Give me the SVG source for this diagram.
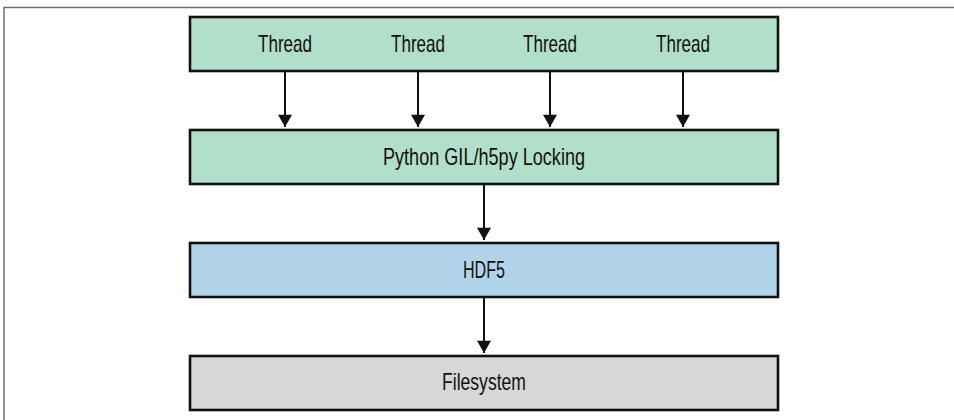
<svg xmlns="http://www.w3.org/2000/svg" width="954" height="420" viewBox="0 0 954 420">
  <style>
    .box { stroke: #111111; stroke-width: 2.6; }
    .green { fill: #b2dfc9; }
    .blue { fill: #b1d4ea; }
    .gray { fill: #d7d7d7; }
    .label { font-family: "Liberation Sans", Arial, sans-serif; font-size: 24px; fill: #111111; text-anchor: middle; }
    .conn { stroke: #111111; stroke-width: 2; fill: none; }
    .frame { stroke: #707070; stroke-width: 1.5; fill: none; }
  </style>
  <defs>
    <marker id="arrow" markerUnits="userSpaceOnUse" markerWidth="16" markerHeight="14" refX="14" refY="8" orient="auto" viewBox="0 0 14 16">
      <path d="M0,0 L14,8 L0,16 Z" fill="#111111"/>
    </marker>
  </defs>

  <path class="frame" d="M4,420 V7.5 H954"/>

  <g id="threads">
    <rect class="box green" x="190" y="17" width="588" height="54"/>
    <text class="label" x="285" y="52" textLength="54" lengthAdjust="spacingAndGlyphs">Thread</text>
    <text class="label" x="418" y="52" textLength="54" lengthAdjust="spacingAndGlyphs">Thread</text>
    <text class="label" x="550" y="52" textLength="54" lengthAdjust="spacingAndGlyphs">Thread</text>
    <text class="label" x="683" y="52" textLength="54" lengthAdjust="spacingAndGlyphs">Thread</text>
  </g>

  <g id="gil">
    <rect class="box green" x="190" y="130" width="588" height="54"/>
    <text class="label" x="484" y="165" textLength="202" lengthAdjust="spacingAndGlyphs">Python GIL/h5py Locking</text>
  </g>

  <g id="hdf5">
    <rect class="box blue" x="190" y="243" width="588" height="54"/>
    <text class="label" x="484" y="278" textLength="42" lengthAdjust="spacingAndGlyphs">HDF5</text>
  </g>

  <g id="filesystem">
    <rect class="box gray" x="190" y="356" width="588" height="54"/>
    <text class="label" x="484" y="390" textLength="84" lengthAdjust="spacingAndGlyphs">Filesystem</text>
  </g>

  <g id="connectors">
    <line class="conn" x1="285" y1="72" x2="285" y2="127" marker-end="url(#arrow)"/>
    <line class="conn" x1="418" y1="72" x2="418" y2="127" marker-end="url(#arrow)"/>
    <line class="conn" x1="550" y1="72" x2="550" y2="127" marker-end="url(#arrow)"/>
    <line class="conn" x1="683" y1="72" x2="683" y2="127" marker-end="url(#arrow)"/>
    <line class="conn" x1="484" y1="185" x2="484" y2="240" marker-end="url(#arrow)"/>
    <line class="conn" x1="484" y1="298" x2="484" y2="353" marker-end="url(#arrow)"/>
  </g>
</svg>
